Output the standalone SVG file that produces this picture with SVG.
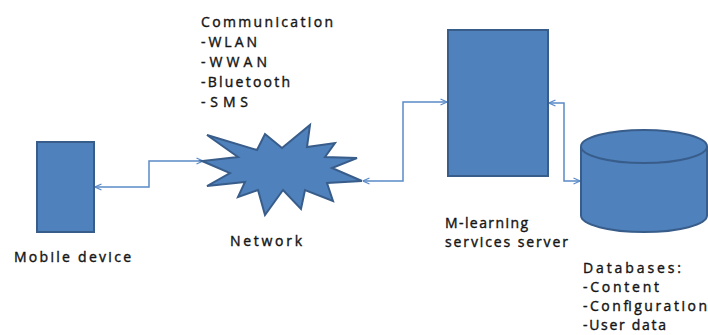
<svg xmlns="http://www.w3.org/2000/svg" width="708" height="335" viewBox="0 0 708 335">
<defs>
<marker id="arr" viewBox="0 0 8 8" refX="7.5" refY="4" markerWidth="8" markerHeight="8" markerUnits="userSpaceOnUse" orient="auto-start-reverse">
<path d="M1,1 L7.5,4 L1,7" fill="none" stroke="#5B8BC8" stroke-width="1.2"/>
</marker>
</defs>
<style>
.shape{fill:#4F81BD;stroke:#385D8A;stroke-width:2}
.conn{fill:none;stroke:#5B8BC8;stroke-width:1.5;marker-start:url(#arr);marker-end:url(#arr)}
.lbl{font-family:"Open Sans","Liberation Sans",Arial,sans-serif;font-size:14px;fill:#151515;stroke:#151515;stroke-width:0.4}
</style>
<rect width="708" height="335" fill="#fff"/>
<g id="connectors">
<polyline class="conn" points="95,187 149,187 149,161 203,161"/>
<polyline class="conn" points="363,181 403,181 403,102 447,102"/>
<polyline class="conn" points="549,103 564,103 564,181 580,181"/>
</g>
<g id="mobile-device">
<rect class="shape" x="37" y="142" width="57" height="90"/>
<text class="lbl" x="14" y="262" textLength="117" lengthAdjust="spacing">Mobile device</text>
</g>
<g id="network">
<polygon class="shape" points="207,135 257,150 265,134 282,148 310,125 307,147 335,143 325,157 357,158 332,168 362,181 327,183 333,201 305,190 301,209 283,190 265,215 258,190 238,197 245,182 207,186 230,173 202,161 238,157"/>
<text class="lbl" x="230" y="246" textLength="72" lengthAdjust="spacing">Network</text>
</g>
<g id="communication">
<text class="lbl" x="201" y="27" textLength="132" lengthAdjust="spacing">Communication</text>
<text class="lbl" x="201" y="47" textLength="56" lengthAdjust="spacing">-WLAN</text>
<text class="lbl" x="201" y="67" textLength="66" lengthAdjust="spacing">-WWAN</text>
<text class="lbl" x="201" y="87" textLength="89" lengthAdjust="spacing">-Bluetooth</text>
<text class="lbl" x="201" y="107" textLength="47" lengthAdjust="spacing">-SMS</text>
</g>
<g id="server">
<rect class="shape" x="448" y="30" width="100" height="146"/>
<text class="lbl" x="445" y="228" textLength="83" lengthAdjust="spacing">M-learning</text>
<text class="lbl" x="445" y="247" textLength="123" lengthAdjust="spacing">services server</text>
</g>
<g id="databases">
<path class="shape" d="M581,146.5 L581,215.5 A63,16.5 0 0 0 707,215.5 L707,146.5"/>
<ellipse class="shape" cx="644" cy="146.5" rx="63" ry="16.5"/>
<text class="lbl" x="583" y="273" textLength="98" lengthAdjust="spacing">Databases:</text>
<text class="lbl" x="583" y="292" textLength="76" lengthAdjust="spacing">-Content</text>
<text class="lbl" x="583" y="311" textLength="124" lengthAdjust="spacing">-Configuration</text>
<text class="lbl" x="583" y="330" textLength="83" lengthAdjust="spacing">-User data</text>
</g>
</svg>
